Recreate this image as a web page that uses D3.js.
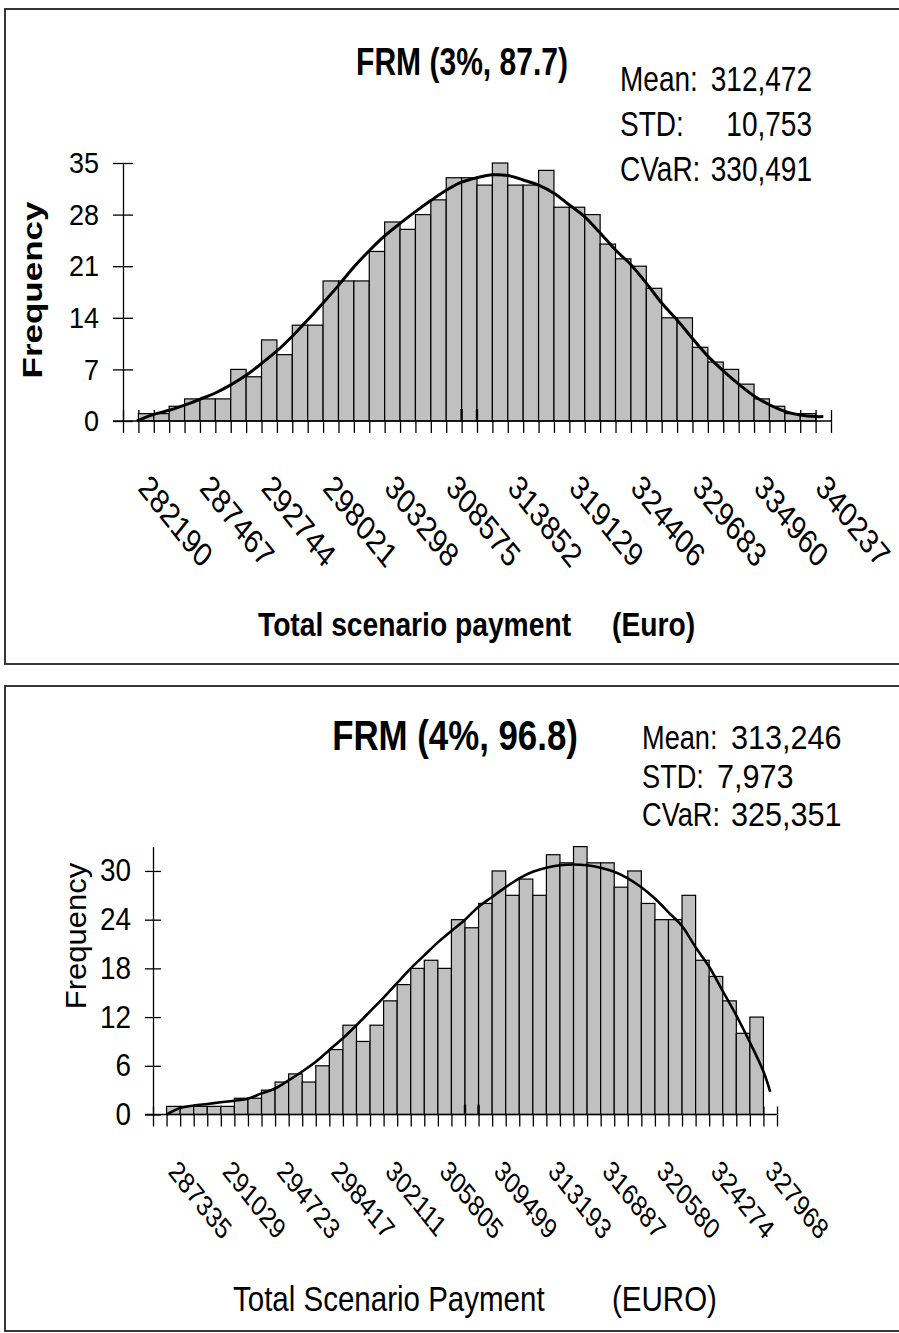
<!DOCTYPE html>
<html>
<head>
<meta charset="utf-8">
<script src="https://cdn.jsdelivr.net/npm/d3@7"></script>
<style>
  body { margin: 0; background: #fff; }
  svg { display: block; }
  text { font-family: "Liberation Sans", Arial, Helvetica, sans-serif; fill: #000; }
</style>
</head>
<body>
<svg id="chart" width="899" height="1333"></svg>
<script>
// ---- FRM (3%, 87.7) ----
const topTitle = "FRM (3%, 87.7)";
const topLabels = [282190, 287467, 292744, 298021, 303298, 308575, 313852, 319129, 324406, 329683, 334960, 340237];
const topCounts = [1, 1, 2, 3, 3, 3, 7, 6, 11, 9, 13, 13, 19, 19, 19, 23, 27, 26, 28, 30, 33, 33,
                   32, 35, 32, 32, 34, 29, 29, 28, 24, 22, 21, 18, 14, 14, 10, 8, 7, 5, 3, 2, 1, 1];
// fitted trend line: [bin edge index, frequency]
const topFit = [[0.9, 0], [1, 0.1], [2, 0.9], [3, 1.45], [4, 2.15], [5, 2.95], [6, 3.8], [7, 4.9], [8, 6.2],
                [9, 7.8], [10, 9.5], [11, 11.5], [12, 13.7], [13, 16.0], [14, 18.4], [15, 20.9], [16, 23.1],
                [17, 25.1], [18, 26.8], [19, 28.4], [20, 29.9], [21, 31.3], [22, 32.4], [23, 33.0], [24, 33.4],
                [25, 33.3], [26, 32.7], [27, 32.0], [28, 30.9], [29, 29.3], [30, 27.7], [31, 25.5], [32, 23.2],
                [33, 21.2], [34, 18.7], [35, 16.0], [36, 13.7], [37, 11.2], [38, 8.8], [39, 6.8], [40, 5.0],
                [41, 3.4], [42, 2.2], [43, 1.3], [44, 0.8], [45, 0.6], [45.5, 0.6]];
const topStatNames = ["Mean:", "STD:", "CVaR:"];
const topStatValues = ["312,472", "10,753", "330,491"];
const topYTicks = [0, 7, 14, 21, 28, 35];
const topMarks = [22, 23];

// ---- FRM (4%, 96.8) ----
const botTitle = "FRM (4%, 96.8)";
const botLabels = [287335, 291029, 294723, 298417, 302111, 305805, 309499, 313193, 316887, 320580, 324274, 327968];
const botCounts = [1, 1, 1, 1, 1, 2, 2, 3, 4, 5, 4, 6, 8, 11, 9, 11, 14, 16, 18, 19, 18, 24,
                   23, 26, 30, 27, 29, 27, 32, 31, 33, 31, 31, 28, 30, 26, 24, 24, 27, 19, 17, 14, 10, 12];
const botFit = [[1, 0], [2, 0.8], [3, 1.1], [4, 1.3], [5, 1.5], [6, 1.7], [7, 1.95], [8, 2.6], [9, 3.2],
                [10, 4.2], [11, 5.3], [12, 6.5], [13, 7.95], [14, 9.4], [15, 11.0], [16, 12.7], [17, 14.4],
                [18, 16.2], [19, 18.0], [20, 19.6], [21, 21.2], [22, 22.6], [23, 24.0], [24, 25.6], [25, 26.8],
                [26, 28.0], [27, 29.1], [28, 29.9], [29, 30.4], [30, 30.7], [31, 30.8], [32, 30.7], [33, 30.4],
                [34, 29.9], [35, 29.1], [36, 28.0], [37, 26.6], [38, 24.9], [39, 23.2], [40, 20.6], [41, 18.2],
                [42, 15.2], [43, 12.2], [44, 8.9], [45, 5.3], [45.5, 2.8]];
const botStatNames = ["Mean:", "STD:", "CVaR:"];
const botStatValues = ["313,246", "7,973", "325,351"];
const botYTicks = [0, 6, 12, 18, 24, 30];
const botMarks = [23, 24];

const svg = d3.select("#chart");

function txt(g, s, x, y, size, o = {}) {
  return g.append("text")
    .attr("transform", `translate(${x},${y}) scale(${o.sx || 1},1)` + (o.rot ? ` rotate(${o.rot})` : ""))
    .attr("text-anchor", o.anchor || "start")
    .attr("font-size", size)
    .attr("font-weight", o.bold ? "bold" : "normal")
    .attr("dy", o.dy || 0)
    .text(s);
}

function histogram(o) {
  const g = svg.append("g");
  g.append("rect")
    .attr("x", o.frame[0]).attr("y", o.frame[1])
    .attr("width", o.frame[2]).attr("height", o.frame[3])
    .attr("fill", "none").attr("stroke", "#222").attr("stroke-width", 1.8);

  const n = o.counts.length;
  const binW = (o.labels[o.labels.length - 1] - o.labels[0]) / n;
  const lo = o.labels[0] - binW;
  const hi = o.labels[o.labels.length - 1] + binW;
  const edge = k => lo + k * binW;

  const x = d3.scaleLinear().domain([lo, hi]).range([o.axisX, o.axisEnd]);
  const y = d3.scaleLinear().domain([0, o.yMax]).range([o.base, o.yTopPx]);

  // category axis with cross ticks at every bin edge
  const xAxis = g.append("g")
    .attr("transform", `translate(0,${o.base})`)
    .call(d3.axisBottom(x).tickValues(d3.range(0, n + 3).map(edge)).tickSizeInner(o.tickDown).tickSizeOuter(0).tickFormat(""));
  xAxis.select(".domain").remove();
  xAxis.selectAll(".tick line").attr("stroke", "#000").attr("stroke-width", 1.3);
  xAxis.selectAll(".tick").append("line").attr("y1", 0).attr("y2", -o.tickUp).attr("stroke", "#000").attr("stroke-width", 1.3);

  // bars
  g.append("g").selectAll("rect").data(o.counts).join("rect")
    .attr("x", (d, i) => x(edge(i + 1)))
    .attr("y", d => y(d))
    .attr("width", (d, i) => x(edge(i + 2)) - x(edge(i + 1)))
    .attr("height", d => y(0) - y(d))
    .attr("fill", "#c0c0c0").attr("stroke", "#000").attr("stroke-width", 1.2);

  // baseline
  g.append("line")
    .attr("x1", o.axisX - o.yTick).attr("x2", x(hi))
    .attr("y1", o.base).attr("y2", o.base)
    .attr("stroke", "#000").attr("stroke-width", 1.5);

  // short marks on the baseline
  g.append("g").selectAll("line").data(o.marks).join("line")
    .attr("x1", k => x(edge(k))).attr("x2", k => x(edge(k)))
    .attr("y1", o.base).attr("y2", o.base - o.markH)
    .attr("stroke", "#000").attr("stroke-width", 2.4);

  // value axis
  const yAxis = g.append("g")
    .attr("transform", `translate(${o.axisX},0)`)
    .call(d3.axisLeft(y).tickValues(o.yTicks).tickSizeInner(o.yTick).tickSizeOuter(0).tickPadding(o.yPad));
  yAxis.select(".domain").attr("stroke", "#000").attr("stroke-width", 1.3);
  yAxis.selectAll(".tick line").attr("stroke", "#000").attr("stroke-width", 1.3);
  yAxis.selectAll(".tick").append("line").attr("x1", 0).attr("x2", o.yTick).attr("stroke", "#000").attr("stroke-width", 1.3);
  yAxis.selectAll(".tick text")
    .attr("font-size", o.yFont)
    .attr("font-family", '"Liberation Sans", Arial, sans-serif')
    .attr("fill", "#000")
    .attr("x", -(o.yTick + o.yPad) / o.ySx)
    .attr("transform", `scale(${o.ySx},1)`);

  // fitted curve
  const line = d3.line()
    .x(d => x(edge(d[0])))
    .y(d => y(d[1]))
    .curve(d3.curveCatmullRom.alpha(0.5));
  g.append("path").datum(o.fit)
    .attr("d", line)
    .attr("fill", "none").attr("stroke", "#000").attr("stroke-width", o.fitW)
    .attr("stroke-linejoin", "round");

  // rotated category labels
  o.labels.forEach(v => {
    txt(g, String(v), x(v) + o.lblDx, o.lblTop, o.lblFont, { sx: 0.8, rot: o.lblRot, dy: "0.72em" });
  });

  // titles and summary statistics
  txt(g, o.title, o.titleX, o.titleY, o.titleFont, { sx: o.titleSx, anchor: "middle", bold: true });
  o.statNames.forEach((s, i) => {
    txt(g, s, o.statX, o.statY + i * o.statGap, o.statFont, { sx: o.statSx });
    txt(g, o.statValues[i], o.valX[i], o.statY + i * o.statGap, o.statFont, { sx: o.valSx, anchor: o.valAnchor });
  });
  txt(g, "Frequency", o.freqX, o.freqY, o.freqFont, { sx: o.freqSx, rot: -90, anchor: "middle", bold: o.freqBold });
  txt(g, o.xTitle[0], o.xTitleX[0], o.xTitleY, o.xTitleFont, { sx: o.xTitleSx, bold: o.xTitleBold });
  txt(g, o.xTitle[1], o.xTitleX[1], o.xTitleY, o.xTitleFont, { sx: o.xTitleSx, bold: o.xTitleBold });
}

histogram({
  frame: [5, 9, 910, 655],
  labels: topLabels, counts: topCounts, fit: topFit, marks: topMarks, yTicks: topYTicks,
  axisX: 123, axisEnd: 831, base: 421, yMax: 35, yTopPx: 163,
  tickDown: 12, tickUp: 11, yTick: 10, yPad: 14, yFont: 30, ySx: 0.9, markH: 12,
  fitW: 3, lblDx: 12.5, lblTop: 472, lblFont: 34, lblRot: 45,
  title: topTitle, titleX: 462, titleY: 75, titleFont: 38, titleSx: 0.79,
  statNames: topStatNames, statValues: topStatValues,
  statX: 620, valX: [812, 812, 812], valAnchor: "end", statY: 91, statGap: 45, statFont: 35, statSx: 0.8, valSx: 0.8,
  freqX: 42, freqY: 290, freqFont: 35, freqSx: 0.78, freqBold: true,
  xTitle: ["Total scenario payment", "(Euro)"], xTitleX: [258, 612], xTitleY: 636,
  xTitleFont: 34, xTitleSx: 0.83, xTitleBold: true
});

histogram({
  frame: [5, 686, 910, 645],
  labels: botLabels, counts: botCounts, fit: botFit, marks: botMarks, yTicks: botYTicks,
  axisX: 153, axisEnd: 777, base: 1114.5, yMax: 33, yTopPx: 846.6,
  tickDown: 12, tickUp: 8, yTick: 8, yPad: 14, yFont: 31, ySx: 0.9, markH: 10,
  fitW: 2.6, lblDx: 12.5, lblTop: 1158, lblFont: 29, lblRot: 45,
  title: botTitle, titleX: 455, titleY: 750, titleFont: 43, titleSx: 0.81,
  statNames: botStatNames, statValues: botStatValues,
  statX: 642, valX: [731, 717, 731], valAnchor: "start", statY: 749, statGap: 38.5, statFont: 34, statSx: 0.8, valSx: 0.9,
  freqX: 86, freqY: 936, freqFont: 31, freqSx: 0.95, freqBold: false,
  xTitle: ["Total Scenario Payment", "(EURO)"], xTitleX: [233, 612], xTitleY: 1311,
  xTitleFont: 36, xTitleSx: 0.82, xTitleBold: false
});
</script>
</body>
</html>
